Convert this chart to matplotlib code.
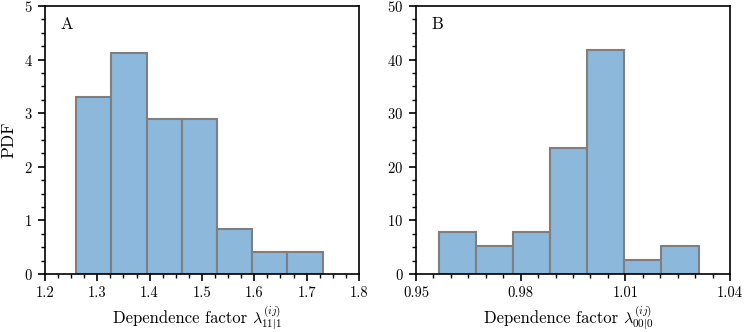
import matplotlib
matplotlib.use("Agg")
import matplotlib.pyplot as plt
from matplotlib.ticker import MultipleLocator
import numpy as np

plt.rcParams['font.family'] = 'serif'
plt.rcParams['font.serif'] = ['cmr10', 'DejaVu Serif']
plt.rcParams['mathtext.fontset'] = 'cm'
plt.rcParams['axes.formatter.use_mathtext'] = True

# Panel A data
edges_a = [1.2594, 1.3267, 1.3940, 1.4613, 1.5286, 1.5959, 1.6632, 1.7305]
pdf_a = [3.30, 4.13, 2.89, 2.89, 0.83, 0.41, 0.41]
xticks_a = [1.2, 1.3, 1.4, 1.5, 1.6, 1.7, 1.8]
xticklabels_a = ['1.2', '1.3', '1.4', '1.5', '1.6', '1.7', '1.8']
yticks_a = [0, 1, 2, 3, 4, 5]

# Panel B data
edges_b = [0.9565, 0.9671, 0.9778, 0.9884, 0.9990, 1.0097, 1.0203, 1.0310]
pdf_b = [7.83, 5.22, 7.83, 23.5, 41.8, 2.61, 5.22]
xticks_b = [0.95, 0.98, 1.01, 1.04]
xticklabels_b = ['0.95', '0.98', '1.01', '1.04']
yticks_b = [0, 10, 20, 30, 40, 50]

label_words = 'Dependence factor'
label_math_a = r'$\lambda^{(ij)}_{11|1}$'
label_math_b = r'$\lambda^{(ij)}_{00|0}$'

fill = '#8cb8db'
edge = '#7f7f7f'

fig = plt.figure(figsize=(7.46, 3.32), dpi=100)
axA = fig.add_axes([0.0603, 0.175, 0.4209, 0.807])
axB = fig.add_axes([0.5576, 0.175, 0.4209, 0.807])

def draw(ax, edges, pdf, xt, xtl, yt, xminor, yminor, letter, math, xlim, ylim):
    e = np.array(edges)
    ax.bar(e[:-1], pdf, width=np.diff(e), align='edge', color=fill,
           edgecolor=edge, linewidth=1.5)
    ax.set_xlim(*xlim)
    ax.set_ylim(*ylim)
    ax.set_xticks(xt)
    ax.set_xticklabels(xtl)
    ax.set_yticks(yt)
    ax.xaxis.set_minor_locator(MultipleLocator(xminor))
    ax.yaxis.set_minor_locator(MultipleLocator(yminor))
    ax.tick_params(which='major', direction='out', length=5, width=1.2,
                   labelsize=10.5, pad=4)
    ax.tick_params(which='minor', direction='out', length=3, width=1.0)
    for s in ax.spines.values():
        s.set_linewidth(1.2)
    ax.text(0.05, 0.93, letter, transform=ax.transAxes, fontsize=12,
            ha='left', va='center')
    t1 = ax.text(0.645, -0.183, label_words, transform=ax.transAxes,
                 fontsize=12, ha='right', va='baseline')
    ax.annotate(math, xy=(1, 0), xycoords=t1, xytext=(3.5, 2.3),
                textcoords='offset points', fontsize=11.5,
                ha='left', va='baseline', annotation_clip=False)

draw(axA, edges_a, pdf_a, xticks_a, xticklabels_a, yticks_a, 0.025, 0.25, 'A',
     label_math_a, (1.2, 1.8), (0, 5))
draw(axB, edges_b, pdf_b, xticks_b, xticklabels_b, yticks_b, 0.005, 2.5, 'B',
     label_math_b, (0.95, 1.04), (0, 50))
axA.set_ylabel('PDF', fontsize=12.5, labelpad=5)

fig.savefig('out.png', dpi=100)
